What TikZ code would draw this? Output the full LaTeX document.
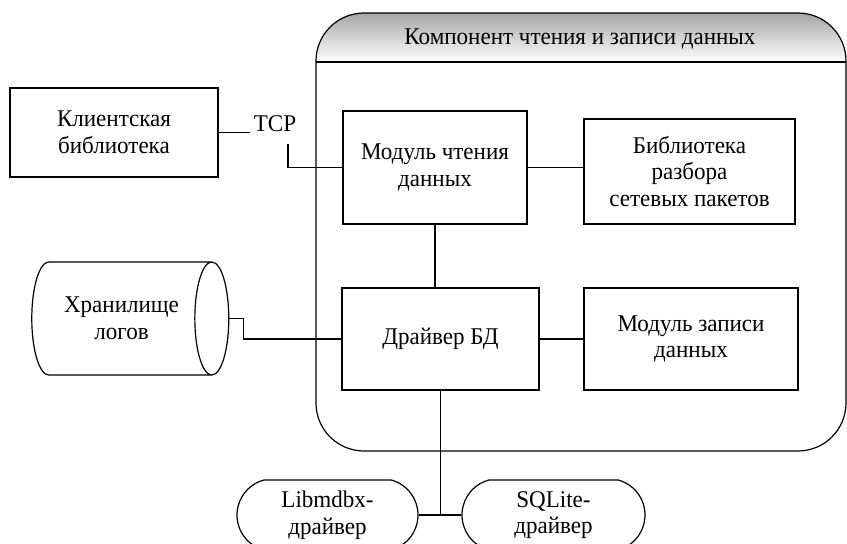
\documentclass[tikz,border=0pt]{standalone}
\usepackage{fontspec}
\setmainfont{Liberation Serif}[FakeStretch=0.96]
\usetikzlibrary{shapes.geometric,shapes.misc,positioning}

\begin{document}
\begin{tikzpicture}[
    x=1pt, y=-1pt,
    font=\fontsize{24}{26.5}\selectfont,
    block/.style={rectangle, draw, line width=1.2pt, align=center, inner sep=0pt},
    store/.style={cylinder, draw, line width=1.2pt, aspect=0.8, align=center, inner sep=0pt},
    drvbox/.style={rounded rectangle, rounded rectangle arc length=150, draw, line width=1.2pt, align=center, inner sep=0pt, minimum width=181pt, minimum height=70pt},
    link/.style={line width=1.2pt},
]
    \useasboundingbox (0,0) rectangle (847,544);

    \begin{scope}
        \clip[rounded corners=48pt] (316,13) rectangle (846,451);
        \shade[top color=black!35, bottom color=white] (316,13) rectangle (846,62);
    \end{scope}
    \draw[link, rounded corners=48pt] (316,13) rectangle (846,451);
    \draw[link] (316,62) -- (846,62);
    \node (comp) at (580,39) {Компонент чтения и записи данных};

    \node[block, minimum width=208pt, minimum height=89pt] (cli) at (114,132.5) {Клиентская\\библиотека};
    \node (tcp) at (275,124) {TCP};
    \node[block, minimum width=184pt, minimum height=113pt] (mod) at (435,167.5) {Модуль чтения\\данных};
    \node[block, minimum width=211pt, minimum height=105pt] (bib) at (689.5,171.5) {Библиотека\\разбора\\сетевых пакетов};
    \node[block, minimum width=197pt, minimum height=102pt] (drv) at (440.5,339) {Драйвер БД};
    \node[block, minimum width=214pt, minimum height=102pt] (wr) at (691,339) {Модуль записи\\данных};
    \node[store, minimum width=113pt, minimum height=197pt] (log) at (121.5,318.5) {Хранилище\\логов};
    \node[drvbox] (mdbx) at (327.5,515) {Libmdbx-\\драйвер};
    \node[drvbox, minimum width=183pt] (sqlite) at (553.5,515) {SQLite-\\драйвер};

    \draw[link] (cli.east) -- (cli.east -| tcp.west);
    \draw[link] (tcp.south) ++(13,8) |- (mod.west);
    \draw[link] (mod.east) -- (mod.east -| bib.west);
    \draw[link] (mod.south) -- (mod.south |- drv.north);
    \draw[link] (drv.east) -- (drv.east -| wr.west);
    \draw[link] (log.east) -- ++(14,0) |- (drv.west);
    \draw[link] (drv.south) -- (drv.south |- mdbx.east);
    \draw[link] (mdbx.east) -- (sqlite.west);
\end{tikzpicture}
\end{document}
